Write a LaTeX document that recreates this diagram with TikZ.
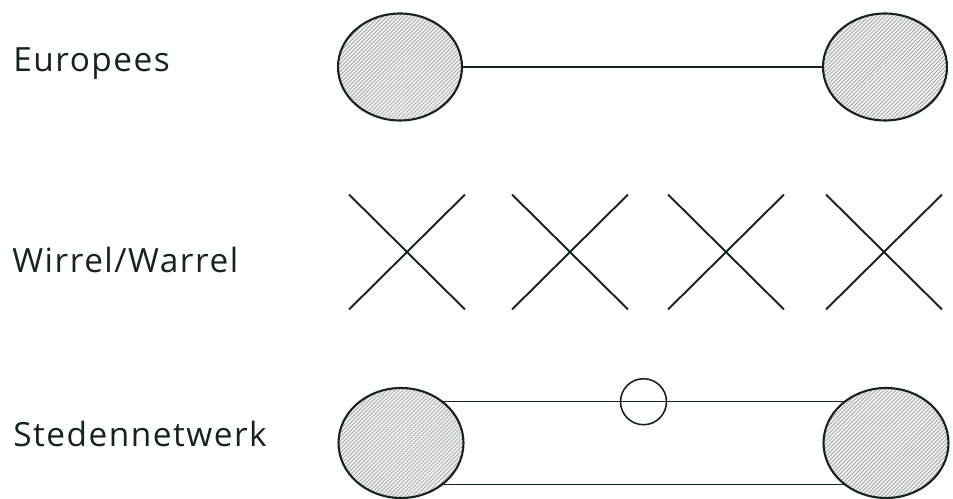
\documentclass[tikz,border=0pt]{standalone}
\usepackage{fontspec}
\setmainfont{Open Sans}[LetterSpace=4.5]
\usetikzlibrary{shapes.geometric,shapes.misc,patterns.meta,calc}
\definecolor{inkgreen}{RGB}{22,36,28}
\tikzset{
  city/.style={draw=inkgreen,ellipse,line width=1.2pt,inner sep=0pt,outer sep=0pt,minimum width=2.48cm,minimum height=2.14cm,
    preaction={fill=gray!12},pattern={Lines[angle=45,distance=1.6pt,line width=0.4pt]},pattern color=gray!75},
  link/.style={draw=inkgreen,line width=0.8pt},
  cross/.style={cross out,draw=inkgreen,line width=1.1pt,inner sep=0pt,minimum width=2.28cm,minimum height=2.26cm},
  hub/.style={circle,draw=inkgreen,line width=0.9pt,inner sep=0pt,minimum size=0.92cm},
  rowlabel/.style={anchor=base west,inner sep=0pt,text=inkgreen,font=\fontsize{19}{22}\selectfont}
}
\begin{document}
\begin{tikzpicture}[x=0.02cm,y=-0.02cm]
\useasboundingbox (0,0) rectangle (953,499);
% row labels
\node[rowlabel] (tEu) at (13,72) {Europees};
\node[rowlabel] (tWi) at (12,273) {Wirrel/Warrel};
\node[rowlabel] (tSt) at (13,447) {Stedennetwerk};
% europees
\node[city] (eL) at (400,67) {};
\node[city] (eR) at (885,67) {};
\draw[link] (eL) -- (eR);
% wirrel/warrel
\foreach \cx [count=\i] in {407,570,726,884}
  \node[cross] (x\i) at (\cx,252) {};
% stedennetwerk
\node[city,minimum width=2.5cm,minimum height=2.2cm] (sL) at (401,443) {};
\node[city,minimum width=2.5cm,minimum height=2.2cm] (sR) at (886,443) {};
\draw[link] (sL.45) -- (sR.135);
\draw[link] (sL.-45) -- (sR.-135);
\node[hub] (hub) at ($(sL.45)!0.5!(sR.135)$) {};
\end{tikzpicture}
\end{document}
